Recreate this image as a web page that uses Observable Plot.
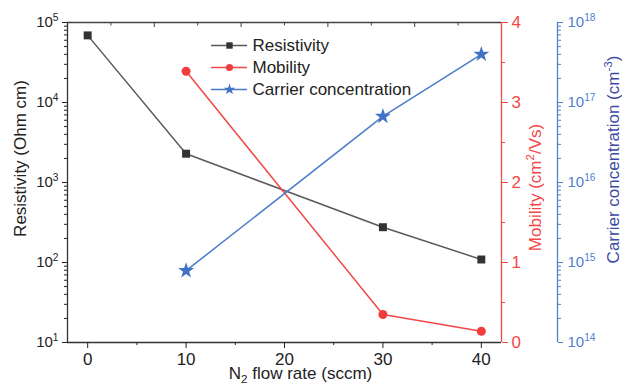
<!DOCTYPE html>
<html><head><meta charset="utf-8">
<script src="https://cdn.jsdelivr.net/npm/d3@7"></script>
<script src="https://cdn.jsdelivr.net/npm/@observablehq/plot@0.6"></script>
<style>
body{margin:0;background:#fff;}
#chart{position:relative;width:622px;height:384px;font-family:"Liberation Sans",Arial,sans-serif;}
#chart svg{position:absolute;left:0;top:0;background:transparent;overflow:visible;}
</style></head><body><div id="chart"></div>
<script>
// ---- data ----
const resFlow = [0, 10, 30, 40];
const resistivity = [6.9e4, 2290, 276, 109];
const mobFlow = [10, 30, 40];
const mobility = [3.39, 0.35, 0.14];
const carFlow = [10, 30, 40];
const carrier = [7.9e14, 6.7e16, 4.0e17];
const xTicks = [0, 10, 20, 30, 40];
const xMinorTicks = [5, 15, 25, 35];
const resTicks = [1e1, 1e2, 1e3, 1e4, 1e5];
const mobTicks = [0, 1, 2, 3, 4];
const mobMinorTicks = [0.5, 1.5, 2.5, 3.5];
const carTicks = [1e14, 1e15, 1e16, 1e17, 1e18];
const seriesNames = ["Resistivity", "Mobility", "Carrier concentration"];
const seriesColors = ["#5a5a5a", "#f24848", "#4a7cc9"];
const seriesSymbols = ["square", "circle", "star"];
const markerColors = ["#333333", "#f03c3c", "#3f72c4"];

// ---- layout ----
const W = 622, H = 384;
const FONT = "'Liberation Sans', Arial, sans-serif";
const xDomain = [-2.05, 42.05];
const RED = "#f24848", BLUE = "#4f82cb", INK = "#222";
const base = {
  width: W, height: H, marginTop: 22, marginRight: 121, marginBottom: 42, marginLeft: 67,
  style: {background: "transparent", fontFamily: FONT, fontSize: "16px", color: INK, overflow: "visible"}
};
const minorLog = (ticks) => ticks.slice(0, -1).flatMap(d => d3.range(2, 10).map(k => d * k));
const topTicks = d3.range(11).map(i => xDomain[0] + i * (xDomain[1] - xDomain[0]) / 10);
const topMajor = topTicks.filter((d, i) => i % 2 === 0 && i > 0 && i < 10);
const topMinor = topTicks.filter((d, i) => i % 2 === 1);
const expFmt = d => `10^{${Math.round(Math.log10(d))}}`;

const resData = resFlow.map((f, i) => ({flow: f, value: resistivity[i]}));
const mobData = mobFlow.map((f, i) => ({flow: f, value: mobility[i]}));
const carData = carFlow.map((f, i) => ({flow: f, value: carrier[i]}));

function richify(svg) {
  svg.querySelectorAll("text").forEach(t => {
    const s = t.textContent;
    if (!/[\^_]\{/.test(s)) return;
    const fs = parseFloat(getComputedStyle(t).fontSize) || 16;
    t.textContent = "";
    const re = /([\^_])\{([^}]*)\}/g;
    let last = 0, cur = 0, m;
    const add = (str, off, small) => {
      if (!str) return;
      const ts = document.createElementNS("http://www.w3.org/2000/svg", "tspan");
      ts.textContent = str;
      const d = off - cur;
      if (d) ts.setAttribute("dy", d);
      if (small) ts.setAttribute("font-size", (fs * 0.68).toFixed(1));
      cur = off;
      t.appendChild(ts);
    };
    while ((m = re.exec(s))) {
      add(s.slice(last, m.index), 0, false);
      add(m[2], m[1] === "^" ? -fs * 0.42 : fs * 0.22, true);
      last = re.lastIndex;
    }
    add(s.slice(last), 0, false);
  });
}

// ---- Resistivity + frame ----
const plotA = Plot.plot({
  ...base,
  x: {domain: xDomain},
  y: {type: "log", domain: [10, 1e5]},
  marks: [
    Plot.ruleX([xDomain[0]], {stroke: "#333", strokeWidth: 1.3}),
    Plot.ruleY([10], {stroke: "#333", strokeWidth: 1.3}),
    Plot.ruleY([1e5], {stroke: "#444", strokeWidth: 1.3}),
    Plot.axisX({anchor: "bottom", ticks: xTicks, tickSize: 6, tickPadding: 4, tickFormat: d => String(d), fontSize: 17, label: null, color: INK}),
    Plot.axisX({anchor: "bottom", ticks: xMinorTicks, tickSize: 3, text: null, label: null, color: INK}),
    Plot.axisX({anchor: "top", ticks: topMajor, tickSize: -4, text: null, label: null, color: "#444"}),
    Plot.axisX({anchor: "top", ticks: topMinor, tickSize: -2.5, text: null, label: null, color: "#444"}),
    Plot.axisY({anchor: "left", ticks: resTicks, tickSize: 5, tickPadding: 4, tickFormat: expFmt, fontSize: 15, label: null, color: INK}),
    Plot.axisY({anchor: "left", ticks: minorLog(resTicks), tickSize: 3, text: null, label: null, color: INK}),
    Plot.line(resData, {x: "flow", y: "value", stroke: seriesColors[0], strokeWidth: 1.5}),
    Plot.dot(resData, {x: "flow", y: "value", symbol: "square", r: 4.5, fill: markerColors[0]}),
    Plot.text(["Resistivity (Ohm cm)"], {text: d => d, frameAnchor: "left", textAnchor: "middle", lineAnchor: "middle", rotate: -90, dx: -47, dy: -24, fontSize: 17, fill: INK}),
    Plot.text(["N_{2} flow rate (sccm)"], {text: d => d, frameAnchor: "bottom", textAnchor: "middle", lineAnchor: "middle", dx: 16, dy: 31, fontSize: 17, fill: INK})
  ]
});

// ---- Mobility ----
const plotB = Plot.plot({
  ...base,
  x: {domain: xDomain, axis: null},
  y: {domain: [0, 4], axis: null},
  marks: [
    Plot.ruleX([xDomain[1]], {stroke: RED, strokeWidth: 1.3}),
    Plot.axisY({anchor: "right", ticks: mobTicks, tickSize: 6, tickPadding: 4, tickFormat: d => String(d), fontSize: 17, label: null, color: RED}),
    Plot.axisY({anchor: "right", ticks: mobMinorTicks, tickSize: 3, text: null, label: null, color: RED}),
    Plot.line(mobData, {x: "flow", y: "value", stroke: seriesColors[1], strokeWidth: 1.5}),
    Plot.dot(mobData, {x: "flow", y: "value", symbol: "circle", r: 4.5, fill: markerColors[1]}),
    Plot.text(["Mobility (cm^{2}/Vs)"], {text: d => d, frameAnchor: "right", textAnchor: "middle", lineAnchor: "middle", rotate: -90, dx: 34, dy: 5, fontSize: 17, fill: RED})
  ]
});

// ---- Carrier concentration ----
const plotC = Plot.plot({
  ...base,
  x: {domain: xDomain, axis: null},
  y: {type: "log", domain: [1e14, 1e18], axis: null},
  marks: [
    Plot.ruleX([xDomain[1]], {dx: 56, stroke: BLUE, strokeWidth: 1.3}),
    Plot.axisY({anchor: "right", dx: 56, ticks: carTicks, tickSize: 5, tickPadding: 5, tickFormat: expFmt, fontSize: 15, label: null, color: BLUE}),
    Plot.axisY({anchor: "right", dx: 56, ticks: minorLog(carTicks), tickSize: 3, text: null, label: null, color: BLUE}),
    Plot.line(carData, {x: "flow", y: "value", stroke: seriesColors[2], strokeWidth: 1.5}),
    Plot.dot(carData, {x: "flow", y: "value", symbol: "star", r: 5, fill: markerColors[2]}),
    Plot.text(["Carrier concentration (cm^{-3})"], {text: d => d, frameAnchor: "right", textAnchor: "middle", lineAnchor: "middle", rotate: -90, dx: 112, dy: -23, fontSize: 17, fill: "#3d4aa3"})
  ]
});

// ---- Legend ----
const legendRows = seriesNames.map((name, i) => ({name, color: seriesColors[i], marker: markerColors[i], symbol: seriesSymbols[i]}));
const plotD = Plot.plot({
  width: 230, height: 74, marginTop: 15, marginBottom: 15, marginLeft: 6, marginRight: 188,
  style: {background: "transparent", fontFamily: FONT, overflow: "visible"},
  x: {domain: [0, 1], axis: null},
  y: {type: "point", domain: seriesNames, padding: 0, axis: null},
  color: {type: "identity"},
  symbol: {type: "identity"},
  marks: [
    Plot.ruleY(legendRows, {y: "name", x1: 0, x2: 1, stroke: "color", strokeWidth: 1.5}),
    Plot.dot(legendRows, {x: 0.5, y: "name", symbol: "symbol", r: 3.6, fill: "marker"}),
    Plot.text(legendRows, {x: 1, y: "name", text: "name", textAnchor: "start", dx: 5, fontSize: 17, fill: INK})
  ]
});

const chart = document.getElementById("chart");
[plotA, plotB, plotC, plotD].forEach(p => chart.appendChild(p));
plotD.style.left = "205px";
plotD.style.top = "30px";
[plotA, plotB, plotC, plotD].forEach(richify);
</script></body></html>
